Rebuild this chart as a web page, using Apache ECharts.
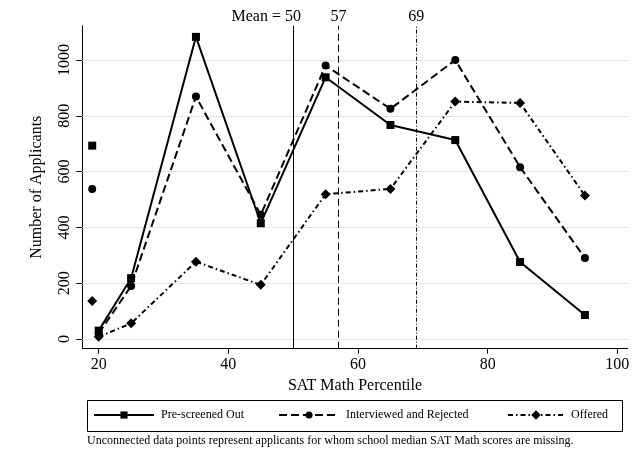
<!DOCTYPE html>
<html><head><meta charset="utf-8">
<script src="https://cdn.jsdelivr.net/npm/echarts@6/dist/echarts.min.js"></script>
<style>html,body{margin:0;padding:0;background:#fff}#c{width:634px;height:471px}</style>
</head><body><div id="c"></div>
<script>
const percentiles = [20, 25, 35, 45, 55, 65, 75, 85, 95];
const prescreened = [30, 218, 1083, 415, 938, 767, 713, 276, 86];
const interviewed = [20, 190, 869, 445, 980, 825, 1000, 616, 290];
const offered = [8, 56, 277, 194, 519, 538, 851, 846, 514];
const missingX = 19;
const missingPrescreened = 693;
const missingInterviewed = 538;
const missingOffered = 136;
const yTicks = [0, 200, 400, 600, 800, 1000];
const xTicks = [20, 40, 60, 80, 100];
const refLines = [
  {value: 50, label: 'Mean = 50'},
  {value: 57, label: '57'},
  {value: 69, label: '69'}
];
const seriesNames = ['Pre-screened Out', 'Interviewed and Rejected', 'Offered'];
const footnote = 'Unconnected data points represent applicants for whom school median SAT Math scores are missing.';

const FONT = '"Liberation Serif", "DejaVu Serif", serif';
const pair = (xs, ys) => xs.map((x, i) => [x, ys[i]]);

const chart = echarts.init(document.getElementById('c'), null, {renderer: 'canvas'});
const lineTypes = ['solid', [8, 4], [5, 3, 1.5, 3]];
const symbols = ['rect', 'circle', 'diamond'];
const sizes = [8, 8, 10];
const values = [prescreened, interviewed, offered];
const missing = [missingPrescreened, missingInterviewed, missingOffered];

const series = [];
for (let i = 0; i < 3; i++) {
  series.push({
    type: 'line', name: seriesNames[i], data: pair(percentiles, values[i]),
    symbol: symbols[i], symbolSize: sizes[i], showAllSymbol: true,
    lineStyle: {color: '#000', width: 2, type: lineTypes[i]},
    itemStyle: {color: '#000', opacity: 1}, color: '#000', z: 5, animation: false
  });
  series.push({
    type: 'scatter', name: seriesNames[i] + ' (missing)', data: [[missingX, missing[i]]],
    symbol: symbols[i], symbolSize: sizes[i], itemStyle: {color: '#000', opacity: 1}, z: 5, animation: false
  });
}
// gridlines and reference lines
series.push({
  type: 'line', name: 'ref', data: [], silent: true, animation: false,
  markLine: {
    silent: true, symbol: 'none', animation: false,
    data: yTicks.map(v => ({yAxis: v, lineStyle: {color: '#dde4ee', width: 1, type: 'solid'}, label: {show: false}}))
      .concat(refLines.map((r, i) => ({
        xAxis: r.value,
        lineStyle: {color: '#000', width: 1, type: [ 'solid', [7, 4], [4, 2, 1, 2] ][i]},
        label: {show: true, position: 'end', formatter: r.label, color: '#000', fontFamily: FONT, fontSize: 16,
                distance: 1, offset: i === 0 ? [-27, 0] : [0, 0]}
      })))
  },
  z: 1
});

const legends = [
  {left: 93, name: seriesNames[0], w: 60, h: 9, top: 409},
  {left: 278, name: seriesNames[1], w: 60, h: 9, top: 409},
  {left: 507, name: seriesNames[2], w: 56, h: 12, top: 409}
].map(l => ({
  data: [l.name], left: l.left, top: l.top, itemWidth: l.w, itemHeight: l.h, padding: 0,
  textStyle: {fontFamily: FONT, fontSize: 12, color: '#000', padding: [0, 0, 0, 2]},
  selectedMode: false, inactiveColor: '#000'
}));

chart.setOption({
  backgroundColor: '#fff',
  animation: false,
  grid: {left: 82.3, right: 6.3, top: 25.7, bottom: 122.3, containLabel: false},
  xAxis: {
    type: 'value', min: 17.47, max: 101.6,
    name: 'SAT Math Percentile', nameLocation: 'middle', nameGap: 27,
    nameTextStyle: {fontFamily: FONT, fontSize: 16, color: '#000'},
    axisLine: {show: true, onZero: false, lineStyle: {color: '#000', width: 1}},
    axisTick: {show: true, length: 5, lineStyle: {color: '#000'}, customValues: xTicks},
    axisLabel: {fontFamily: FONT, fontSize: 16, color: '#000', margin: 8, customValues: xTicks,
                formatter: v => String(v)},
    splitLine: {show: false}
  },
  yAxis: {
    type: 'value', min: -34.8, max: 1123,
    name: 'Number of Applicants', nameLocation: 'middle', nameGap: 38, nameRotate: 90,
    nameTextStyle: {fontFamily: FONT, fontSize: 16, color: '#000'},
    axisLine: {show: true, onZero: false, lineStyle: {color: '#000', width: 1}},
    axisTick: {show: true, length: 6, lineStyle: {color: '#000'}, customValues: yTicks},
    axisLabel: {fontFamily: FONT, fontSize: 16, color: '#000', margin: 10, rotate: 90, customValues: yTicks,
                formatter: v => String(v)},
    splitLine: {show: false}
  },
  legend: legends,
  graphic: [
    {type: 'rect', shape: {x: 87.5, y: 400.5, width: 535, height: 31}, style: {fill: 'none', stroke: '#000', lineWidth: 1}, silent: true},
    {type: 'text', left: 87, top: 435, style: {text: footnote, font: '12px ' + FONT, fill: '#000'}, silent: true}
  ],
  series: series
});
</script></body></html>
